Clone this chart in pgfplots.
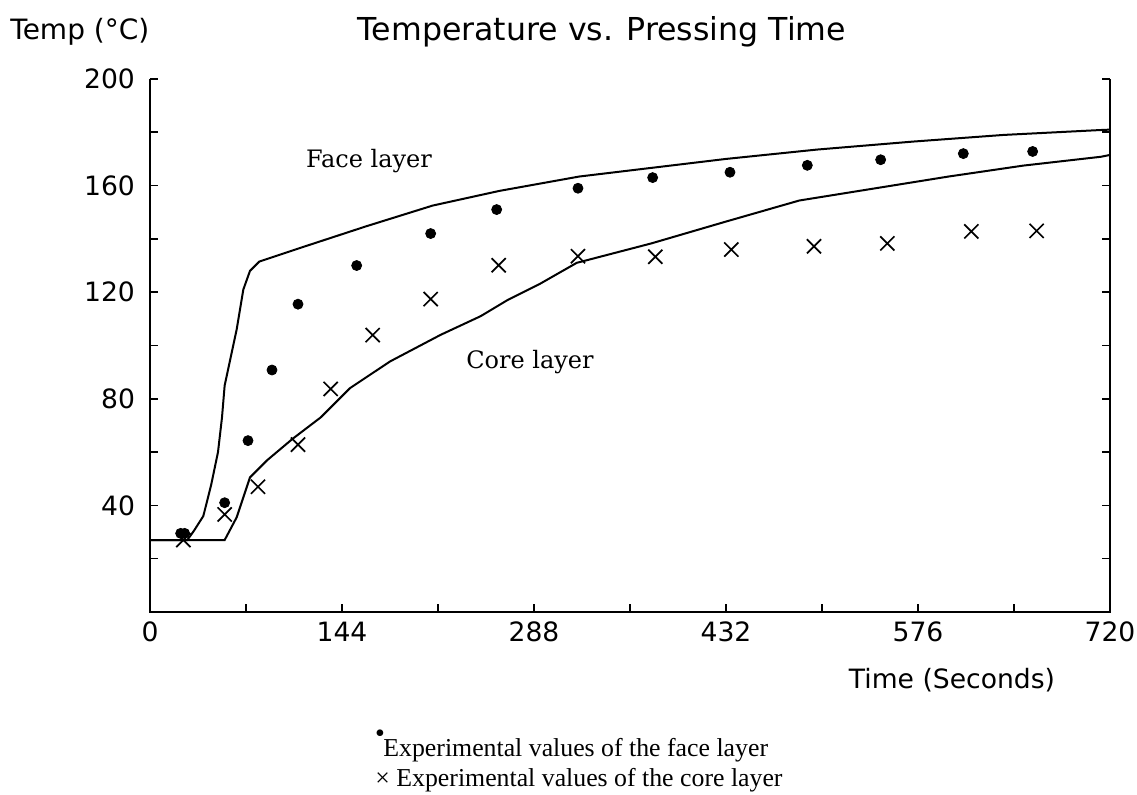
\documentclass[border=0pt]{standalone}
\usepackage{fontspec}
\usepackage{pgfplots}
\pgfplotsset{compat=1.18}
\setmainfont{Liberation Serif}
\newfontfamily\sansf{DejaVu Sans}
\newfontfamily\serf{DejaVu Serif}
\newfontfamily\timesf{Liberation Serif}

\begin{document}
\begin{tikzpicture}[x=1pt,y=1pt]
\path[use as bounding box] (0,0) rectangle (568.5,397.5);
\begin{axis}[
  at={(75pt,91.5pt)}, anchor=origin,
  scale only axis, width=480pt, height=266.5pt,
  xmin=0, xmax=720, ymin=0, ymax=200,
  clip=false,
  axis line style={draw=none},
  tick align=inside,
  xtick={0,144,288,432,576,720},
  minor xtick={72,216,360,504,648},
  ytick={40,80,120,160,200},
  minor ytick={0,20,60,100,140,180},
  xtick pos=bottom,
  major tick length=4pt, minor tick length=4pt,
  every tick/.style={black, line width=0.8pt},
  ticklabel style={font=\sansf\fontsize{13.3}{15}\selectfont},
  /pgf/number format/assume math mode=true,
  yticklabel style={xshift=-4pt},
  xticklabel style={yshift=-1.5pt},
]
\draw[line width=1pt] (rel axis cs:0,1) -- (rel axis cs:0,0) -- (rel axis cs:1,0) -- (rel axis cs:1,1);
% Face layer (model)
\addplot[black, line width=1pt, no marks] coordinates {
(0,27) (28,27) (33,30.5) (40,36) (46,48) (51,60) (54,73) (56,85) (65,106) (70,121) (75,128)
(82,131.5) (112,136.5) (162,144.7) (212,152.5) (262,158) (292,160.7) (322,163.4)
(432,170) (500,173.5) (572,176.5) (640,179) (711,180.8) (720,181)
};
% Core layer (model)
\addplot[black, line width=1pt, no marks] coordinates {
(0,27) (56,27) (65,35.5) (75,50.5) (88,57) (107,65) (128,73) (150,84) (180,94)
(218,104) (248,111) (268,117) (292,123) (320,131) (376,138.3) (432,146.5)
(487,154.4) (543,158.9) (599,163.4) (655,167.5) (713,170.8) (720,171.5)
};
% Experimental face
\addplot[only marks, mark=*, mark size=2.5pt, black] coordinates {
(23,29.5) (26,29.5) (56,41) (73.5,64.3) (91.5,90.8) (111,115.5) (155,130) (210.5,142)
(260,151) (321,159) (377,163) (435,165) (493,167.6) (548,169.7) (610,172) (662,172.8)
};
% Experimental core
\addplot[only marks, mark=x, mark size=5pt, black, line width=0.85pt] coordinates {
(25,27) (56,36.6) (81,47) (111,62.8) (135.5,83.7) (167,103.9) (210.5,117.4) (261.5,130.1)
(321,133.5) (379,133.3) (436,136) (498,137.2) (553,138.3) (616,142.8) (665,143)
};
\end{axis}
\node[anchor=west, font=\sansf\fontsize{14}{16}\selectfont, inner sep=0] at (5,381.5) {Temp (°C)};
\node[font=\sansf\fontsize{15.8}{18}\selectfont, inner sep=0] at (301,381.5) {Temperature vs. Pressing Time};
\node[font=\sansf\fontsize{13.3}{15}\selectfont, inner sep=0] at (476,57.5) {Time (Seconds)};
\node[font=\serf\fontsize{12}{14}\selectfont, inner sep=0] at (184.5,317) {Face layer};
\node[font=\serf\fontsize{12}{14}\selectfont, inner sep=0] at (265,216.5) {Core layer};
\node[font=\timesf\fontsize{14}{16}\selectfont, inner sep=0] at (190,29.5) {•};
\node[anchor=west, font=\timesf\fontsize{12.9}{15}\selectfont, inner sep=0] at (191.5,22.5) {Experimental values of the face layer};
\node[anchor=west, font=\timesf\fontsize{12.9}{15}\selectfont, inner sep=0] at (187.5,7.5) {× Experimental values of the core layer};
\end{tikzpicture}
\end{document}
